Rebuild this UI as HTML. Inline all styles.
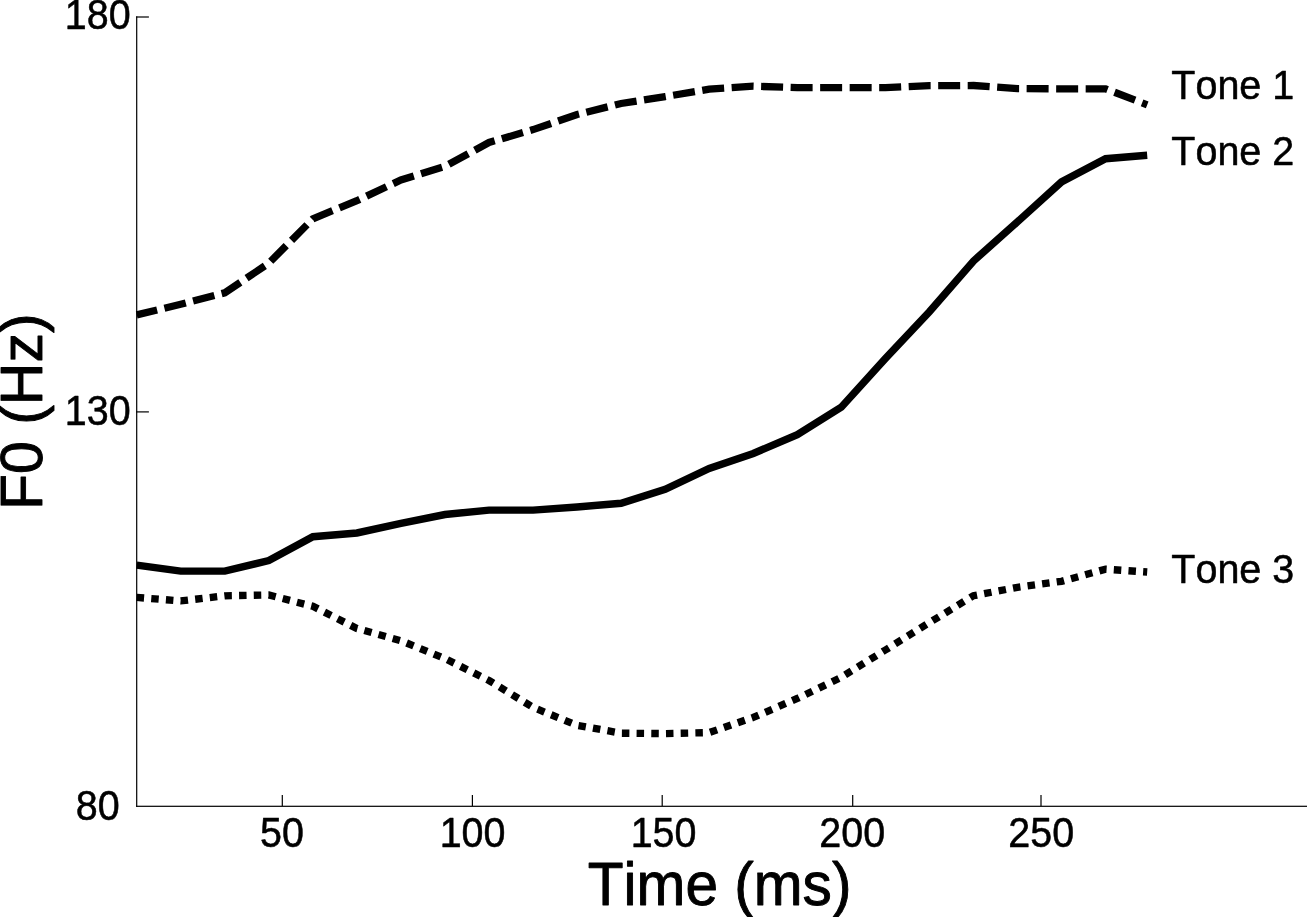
<!DOCTYPE html>
<html><head><meta charset="utf-8"><title>F0 contours</title>
<style>
html,body{margin:0;padding:0;background:#fff;}
body{width:1307px;height:917px;overflow:hidden;}
svg{display:block;}
text{font-family:"Liberation Sans",Arial,sans-serif;fill:#000;stroke:#000;stroke-width:0.5px;stroke-linejoin:round;font-kerning:none;font-variant-ligatures:none;}
.tk{font-size:39.5px;}
.lb{font-size:59px;stroke-width:0.9px;}
</style></head><body>
<svg width="1307" height="917" viewBox="0 0 1307 917">
<rect width="1307" height="917" fill="#fff"/>
<!-- axes -->
<g fill="#000">
<rect x="136.1" y="16.4" width="1.2" height="790.5"/>
<rect x="136.1" y="805.7" width="1171" height="1.2"/>
<rect x="136.1" y="16.4" width="12.8" height="1.2"/>
<rect x="136.1" y="411.3" width="12.8" height="1.2"/>
<rect x="281.7" y="795" width="1.2" height="11"/>
<rect x="471.8" y="795" width="1.2" height="11"/>
<rect x="661.6" y="795" width="1.2" height="11"/>
<rect x="852.1" y="795" width="1.2" height="11"/>
<rect x="1040.4" y="795" width="1.2" height="11"/>
</g>
<!-- y tick labels -->
<g class="tk" text-anchor="end">
<text transform="translate(130.6 29.4) scale(1 1.065)">180</text>
<text transform="translate(130.6 424.6) scale(1 1.065)">130</text>
<text transform="translate(119.8 820) scale(1 1.065)">80</text>
</g>
<!-- x tick labels -->
<g class="tk" text-anchor="middle">
<text transform="translate(282 847.1) scale(1 1.065)">50</text>
<text transform="translate(472.6 847.1) scale(1 1.065)">100</text>
<text transform="translate(663.6 847.1) scale(1 1.065)">150</text>
<text transform="translate(852.2 847.1) scale(1 1.065)">200</text>
<text transform="translate(1041.2 847.1) scale(1 1.065)">250</text>
</g>
<!-- axis labels -->
<text class="lb" style="font-size:58.6px" transform="translate(719.6 905.2) scale(1 1.05)" text-anchor="middle">Time (ms)</text>
<text class="lb" transform="translate(42.4 411.7) rotate(-90)" text-anchor="middle">F0 (Hz)</text>
<!-- curves -->
<g fill="none" stroke="#000" stroke-linejoin="miter">
<polyline stroke-width="7.3" stroke-dasharray="22 7.52" stroke-dashoffset="1" points="136.7,314.9 180.7,304.3 224.8,292.8 268.8,263.2 312.9,218.8 356.9,200.7 400.9,180.0 445.0,166.4 489.0,142.5 533.1,129.6 577.1,114.5 621.1,103.5 665.2,96.6 709.2,89.2 753.3,86.2 797.3,87.6 841.3,87.6 885.4,87.6 929.4,85.7 973.5,85.5 1017.5,88.6 1061.5,88.8 1105.6,88.8 1147.2,104.8"/>
<polyline stroke-width="7.45" points="136.7,565.1 180.7,571.1 224.8,571.1 268.8,560.6 312.9,536.7 356.9,533.0 400.9,523.4 445.0,514.5 489.0,510.1 533.1,510.1 577.1,507.0 621.1,503.2 665.2,489.3 709.2,468.4 753.3,453.5 797.3,434.6 841.3,407.2 885.4,358.4 929.4,311.7 973.5,261.0 1017.5,221.8 1061.5,181.9 1105.6,158.7 1147.2,155.3"/>
<polyline stroke-width="7.35" stroke-dasharray="7.5 7.2" stroke-dashoffset="0.1" points="136.7,597.4 180.7,600.9 224.8,595.8 268.8,595.0 312.9,606.3 356.9,628.5 400.9,640.7 445.0,658.6 489.0,680.5 533.1,707.4 577.1,725.3 621.1,733.2 665.2,733.6 709.2,732.6 753.3,717.4 797.3,698.5 841.3,677.3 885.4,650.0 929.4,622.6 973.5,595.7 1017.5,587.3 1061.5,581.3 1105.6,569.2 1147.2,572.0"/>
</g>
<!-- curve labels -->
<g class="tk">
<text transform="translate(1171.3 98.8) scale(1 1.05)">Tone 1</text>
<text transform="translate(1171.3 165.1) scale(1 1.05)">Tone 2</text>
<text transform="translate(1171.3 583.4) scale(1 1.05)">Tone 3</text>
</g>
</svg>
</body></html>
